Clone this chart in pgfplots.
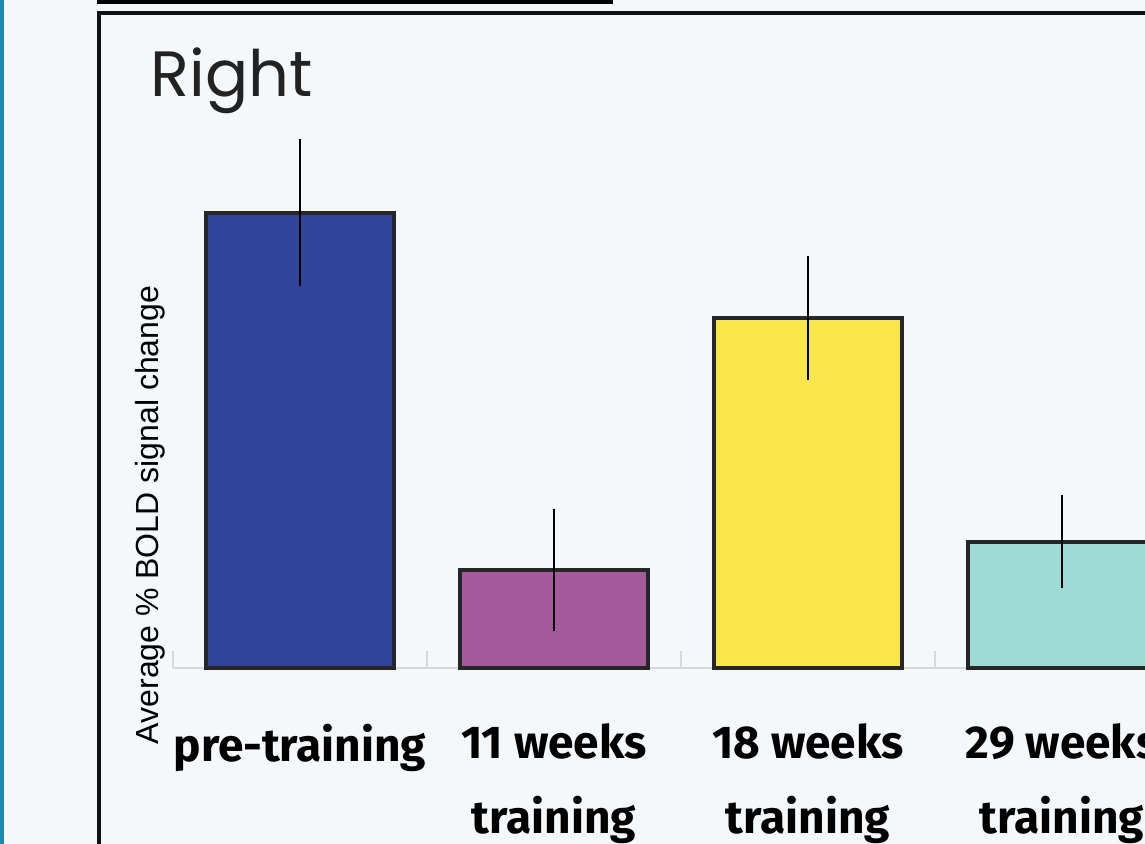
\documentclass[border=0pt]{standalone}
\usepackage{pgfplots}
\pgfplotsset{compat=1.18}
\usepackage{fontspec}
\setmainfont{Liberation Sans}
\newfontfamily\titlefont{Poppins}
\newfontfamily\labfont{Fira Sans}
\definecolor{bgc}{HTML}{F5F8FA}
\definecolor{stripc}{HTML}{1B8AB3}
\definecolor{framec}{HTML}{111111}
\definecolor{edgec}{HTML}{262626}
\definecolor{basec}{HTML}{D9D9D9}
\definecolor{c1}{HTML}{32449A}
\definecolor{c2}{HTML}{A55A9B}
\definecolor{c3}{HTML}{F9E64A}
\definecolor{c4}{HTML}{9FDBD6}
\definecolor{titlec}{HTML}{222222}
\begin{document}
\begin{tikzpicture}[x=0.5pt,y=0.5pt]
\useasboundingbox (0,0) rectangle (1145,844);
\clip (0,0) rectangle (1145,844);
\fill[bgc] (0,0) rectangle (1145,844);
\fill[stripc] (0,0) rectangle (3.5,844);
\fill[black] (97,839.5) rectangle (613,844);
\draw[line width=2pt, framec] (98.5,-20) |- (1250,830.5);
\node[anchor=base west, inner sep=0pt, font=\titlefont\fontsize{32}{32}\selectfont, text=titlec] at (150,747) {Right};
\node[rotate=90, anchor=base, inner sep=0pt, font=\fontsize{16}{16}\selectfont] at (158,329) {Average \% BOLD signal change};
\begin{axis}[
  at={(86.5pt,88pt)}, anchor=south west,
  scale only axis, width=508pt, height=275pt,
  xmin=-0.5, xmax=3.5, ymin=0, ymax=5.5,
  axis y line=none, axis x line=bottom,
  x axis line style={draw=basec, line width=1pt, -},
  ytick=\empty,
  xtick={0,1,2,3},
  xticklabels={pre-training, {11 weeks\\training}, {18 weeks\\training}, {29 weeks\\training}},
  major tick length=0pt,
  xticklabel style={font=\labfont\bfseries\fontsize{23}{37.5}\selectfont, align=center, anchor=north, text=black, yshift=-24.5pt},
  ybar, bar shift=0pt, bar width=0.744,
  clip=false,
]
\pgfplotsinvokeforeach{-0.5,0.5,1.5,2.5,3.5}{\draw[draw=basec, line width=0.75pt] (axis cs:#1,0) -- ++(0pt,8.5pt);}
\addplot[fill=c1, draw=edgec, line width=2pt, error bars/.cd, y dir=both, y explicit, error mark=none, error bar style={line width=1pt, black}] coordinates {(0,4.55) +- (0,0.735)};
\addplot[fill=c2, draw=edgec, line width=2pt, error bars/.cd, y dir=both, y explicit, error mark=none, error bar style={line width=1pt, black}] coordinates {(1,0.98) +- (0,0.61)};
\addplot[fill=c3, draw=edgec, line width=2pt, error bars/.cd, y dir=both, y explicit, error mark=none, error bar style={line width=1pt, black}] coordinates {(2,3.50) +- (0,0.62)};
\addplot[fill=c4, draw=edgec, line width=2pt, error bars/.cd, y dir=both, y explicit, error mark=none, error bar style={line width=1pt, black}] coordinates {(3,1.26) +- (0,0.465)};
\end{axis}
\end{tikzpicture}
\end{document}
